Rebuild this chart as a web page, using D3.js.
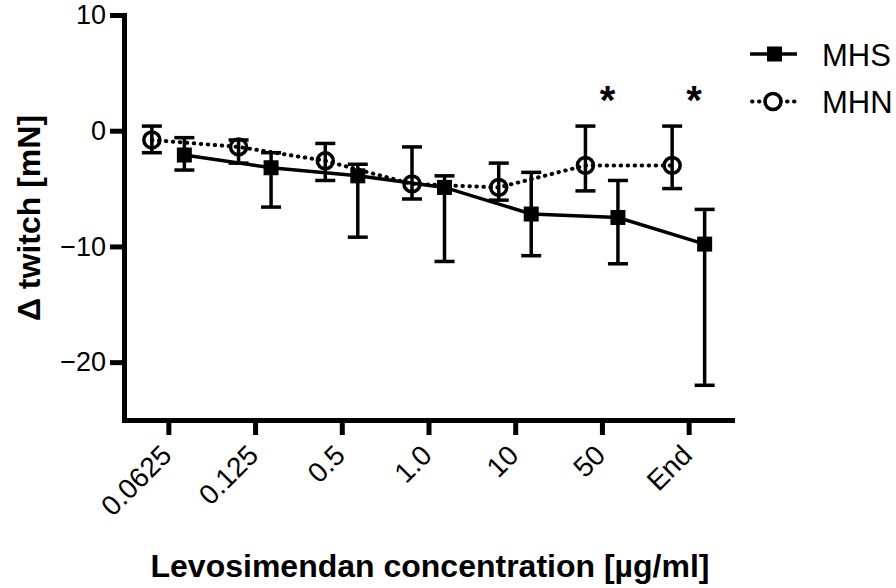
<!DOCTYPE html>
<html>
<head>
<meta charset="utf-8">
<script src="https://cdn.jsdelivr.net/npm/d3@7"></script>
<style>
  html, body { margin: 0; padding: 0; background: #fff; }
  svg { display: block; }
  text { font-family: "Liberation Sans", Arial, sans-serif; fill: #000; }
</style>
</head>
<body>
<svg id="chart" width="896" height="588"></svg>
<script>
// ---- data ----
const categories = ["0.0625", "0.125", "0.5", "1.0", "10", "50", "End"];
const mhsMean  = [-2.1, -3.2, -3.9, -4.9, -7.2, -7.5, -9.8];
const mhsUpper = [-0.6, -1.9, -2.9, -3.9, -3.6, -4.3, -6.8];
const mhsLower = [-3.4, -6.6, -9.2, -11.3, -10.8, -11.5, -22.0];
const mhnMean  = [-0.8, -1.4, -2.6, -4.6, -4.9, -3.0, -3.0];
const mhnUpper = [0.4, -0.8, -1.1, -1.4, -2.8, 0.4, 0.4];
const mhnLower = [-1.9, -2.8, -4.3, -5.9, -6.0, -5.2, -5.0];
const significant = ["50", "End"];
const yTicks = [10, 0, -10, -20];
const seriesNames = ["MHS", "MHN"];

// ---- layout ----
const svg = d3.select("#chart");
const x = d3.scalePoint().domain(categories).range([125, 732]).padding(0.5);
const y = d3.scaleLinear().domain([-25, 10]).range([420, 15]);
const nudgeMHN = -16.5, nudgeMHS = 16;
const font = "'Liberation Sans', Arial, sans-serif";

// ---- axes ----
const yAxis = svg.append("g").attr("transform", "translate(124,0)")
  .call(d3.axisLeft(y).tickValues(yTicks).tickSize(14).tickSizeOuter(0).tickPadding(4).tickFormat(d3.format("d")));
const xAxis = svg.append("g").attr("transform", "translate(0,420)")
  .call(d3.axisBottom(x).tickSize(15).tickSizeOuter(0).tickFormat(""));
[yAxis, xAxis].forEach(g => {
  g.select(".domain").attr("stroke", "#000").attr("stroke-width", 5).attr("stroke-linecap", "square");
  g.selectAll(".tick line").attr("stroke", "#000").attr("stroke-width", 5);
});
yAxis.selectAll(".tick text").attr("font-size", 27).attr("font-family", font).attr("fill", "#000");

// rotated x tick labels
svg.append("g").selectAll("text").data(categories).join("text")
  .attr("transform", d => `translate(${x(d) + 5},457) rotate(-45)`)
  .attr("text-anchor", "end")
  .attr("font-size", 28)
  .text(d => d);

// axis titles
svg.append("text")
  .attr("x", 430).attr("y", 577)
  .attr("text-anchor", "middle").attr("font-size", 32).attr("font-weight", "bold")
  .text("Levosimendan concentration [µg/ml]");
svg.append("text")
  .attr("transform", "translate(40,218) rotate(-90)")
  .attr("text-anchor", "middle").attr("font-size", 32).attr("font-weight", "bold")
  .text("Δ twitch [mN]");

// ---- series ----
const mhn = categories.map((c, i) => ({ c, m: mhnMean[i], u: mhnUpper[i], l: mhnLower[i] }));
const mhs = categories.map((c, i) => ({ c, m: mhsMean[i], u: mhsUpper[i], l: mhsLower[i] }));

function drawErr(data, nudge) {
  const g = svg.append("g").attr("stroke", "#000").attr("stroke-width", 3.5).attr("fill", "none");
  data.forEach(d => {
    const cx = x(d.c) + nudge;
    g.append("line").attr("x1", cx).attr("x2", cx).attr("y1", y(d.u)).attr("y2", y(d.l));
    g.append("line").attr("x1", cx - 10).attr("x2", cx + 10).attr("y1", y(d.u)).attr("y2", y(d.u));
    g.append("line").attr("x1", cx - 10).attr("x2", cx + 10).attr("y1", y(d.l)).attr("y2", y(d.l));
  });
}

// MHN dotted
svg.append("path").datum(mhn)
  .attr("fill", "none").attr("stroke", "#000").attr("stroke-width", 4)
  .attr("stroke-dasharray", "0.5,6.5").attr("stroke-linecap", "round")
  .attr("d", d3.line().x(d => x(d.c) + nudgeMHN).y(d => y(d.m)));
drawErr(mhn, nudgeMHN);
svg.append("g").selectAll("circle").data(mhn).join("circle")
  .attr("cx", d => x(d.c) + nudgeMHN).attr("cy", d => y(d.m)).attr("r", 8)
  .attr("fill", "none").attr("stroke", "#000").attr("stroke-width", 3.5);

// MHS solid
svg.append("path").datum(mhs)
  .attr("fill", "none").attr("stroke", "#000").attr("stroke-width", 3.5)
  .attr("d", d3.line().x(d => x(d.c) + nudgeMHS).y(d => y(d.m)));
drawErr(mhs, nudgeMHS);
svg.append("g").selectAll("rect").data(mhs).join("rect")
  .attr("x", d => x(d.c) + nudgeMHS - 7.5).attr("y", d => y(d.m) - 7.5)
  .attr("width", 15).attr("height", 15).attr("fill", "#000");

// significance asterisks
svg.append("g").selectAll("text").data(significant).join("text")
  .attr("x", d => x(d) + 5.5).attr("y", 114)
  .attr("text-anchor", "middle").attr("font-size", 40).attr("font-weight", "bold")
  .text("*");

// ---- legend ----
const lg = svg.append("g");
// MHS
lg.append("line").attr("x1", 750).attr("x2", 797).attr("y1", 54).attr("y2", 54)
  .attr("stroke", "#000").attr("stroke-width", 3.5);
lg.append("rect").attr("x", 767).attr("y", 46.5).attr("width", 15).attr("height", 15).attr("fill", "#000");
lg.append("text").attr("x", 822).attr("y", 66).attr("font-size", 31).text(seriesNames[0]);
// MHN
lg.append("line").attr("x1", 752).attr("x2", 797).attr("y1", 101.5).attr("y2", 101.5)
  .attr("stroke", "#000").attr("stroke-width", 4)
  .attr("stroke-dasharray", "0.5,6.5").attr("stroke-linecap", "round");
lg.append("circle").attr("cx", 773).attr("cy", 101.5).attr("r", 8)
  .attr("fill", "#fff").attr("stroke", "#000").attr("stroke-width", 3.5);
lg.append("text").attr("x", 822).attr("y", 113).attr("font-size", 31).text(seriesNames[1]);
</script>
</body>
</html>
